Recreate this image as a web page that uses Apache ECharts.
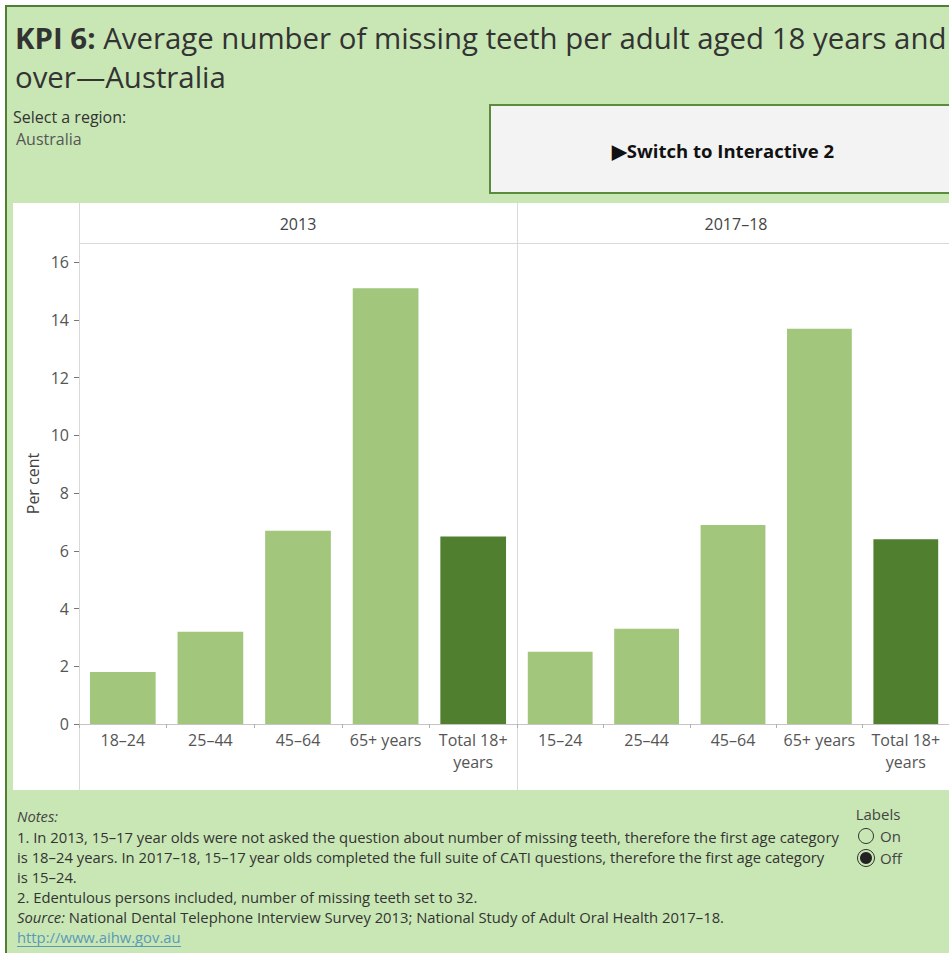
<!DOCTYPE html>
<html>
<head>
<meta charset="utf-8">
<title>KPI 6: Average number of missing teeth per adult</title>
<script src="https://cdn.jsdelivr.net/npm/echarts@6/dist/echarts.min.js"></script>
<style>
  html, body { margin: 0; padding: 0; background: #ffffff; }
  #chart { width: 949px; height: 953px; }
</style>
</head>
<body>
<div id="chart"></div>
<script>
// Age groups shown in each survey panel
const categories2013 = ['18–24', '25–44', '45–64', '65+ years', 'Total 18+\nyears'];
const categories2017 = ['15–24', '25–44', '45–64', '65+ years', 'Total 18+\nyears'];

// Average number of missing teeth per adult
const values2013 = [1.8, 3.2, 6.7, 15.1, 6.5];
const values2017 = [2.5, 3.3, 6.9, 13.7, 6.4];

// Panel headings and value-axis ticks
const panelTitles = ['2013', '2017–18'];
const yTicks = [0, 2, 4, 6, 8, 10, 12, 14, 16];

// Footnotes
const noteLines = [
  '1. In 2013, 15–17 year olds were not asked the question about number of missing teeth, therefore the first age category',
  'is 18–24 years. In 2017–18, 15–17 year olds completed the full suite of CATI questions, therefore the first age category',
  'is 15–24.',
  '2. Edentulous persons included, number of missing teeth set to 32.'
];
const sourceText = 'National Dental Telephone Interview Survey 2013; National Study of Adult Oral Health 2017–18.';
const linkText = 'http://www.aihw.gov.au';

const COLORS = {
  page: '#c9e7b5',
  frame: '#4f7f30',
  panel: '#ffffff',
  rule: '#d9d9d9',
  bar: '#a1c67c',
  total: '#50802f',
  title: '#333333',
  text: '#555555',
  link: '#5a9ab8'
};
const FONT = '"Open Sans", "Noto Sans", sans-serif';

const chart = echarts.init(document.getElementById('chart'), null, { renderer: 'svg' });

const plotTop = 243, plotBottom = 724, panelW = 438;
const panelLefts = [79, 517];
const yMax = 16.67;

function barItem(v, i, arr) {
  return { value: v, itemStyle: { color: i === arr.length - 1 ? COLORS.total : COLORS.bar } };
}

const grids = panelLefts.map(l => ({ left: l, top: plotTop, width: panelW, height: plotBottom - plotTop, containLabel: false }));

const xAxes = [categories2013, categories2017].map((cats, gi) => ({
  type: 'category',
  gridIndex: gi,
  data: cats,
  axisLine: { show: true, lineStyle: { color: '#c4c4c4', width: 1 } },
  axisTick: { show: true, alignWithLabel: false, length: 4, lineStyle: { color: '#b0b0b0' } },
  axisLabel: { color: COLORS.text, fontFamily: FONT, fontSize: 16, lineHeight: 22, margin: 5, interval: 0 }
}));

const yAxes = [0, 1].map(gi => ({
  type: 'value',
  gridIndex: gi,
  min: 0,
  max: yMax,
  name: gi === 0 ? 'Per cent' : '',
  nameLocation: 'middle',
  nameRotate: 90,
  nameGap: 38,
  nameTextStyle: { color: '#444', fontFamily: FONT, fontSize: 16 },
  axisLine: { show: false },
  axisTick: { show: gi === 0, length: 5, customValues: yTicks, lineStyle: { color: '#777' } },
  axisLabel: { show: gi === 0, customValues: yTicks, color: COLORS.text, fontFamily: FONT, fontSize: 16, margin: 10 },
  splitLine: { show: false }
}));

const series = [values2013, values2017].map((vals, gi) => ({
  type: 'bar',
  xAxisIndex: gi,
  yAxisIndex: gi,
  barCategoryGap: '25%',
  data: vals.map(barItem),
  silent: true
}));

// Page furniture: frame, white chart panel, rules, headings, button, notes
const g = [];
g.push({ type: 'rect', z: -20, shape: { x: 0, y: 0, width: 949, height: 953 }, style: { fill: '#ffffff' } });
g.push({ type: 'rect', z: -19, shape: { x: 6, y: 6, width: 960, height: 960 }, style: { fill: COLORS.page, stroke: COLORS.frame, lineWidth: 2 } });
g.push({ type: 'rect', z: -18, shape: { x: 13, y: 203, width: 940, height: 587 }, style: { fill: COLORS.panel } });
// panel rules
g.push({ type: 'line', z: -17, shape: { x1: 79.5, y1: 203, x2: 79.5, y2: 790 }, style: { stroke: COLORS.rule, lineWidth: 1 } });
g.push({ type: 'line', z: -17, shape: { x1: 517.5, y1: 203, x2: 517.5, y2: 790 }, style: { stroke: COLORS.rule, lineWidth: 1 } });
g.push({ type: 'line', z: -17, shape: { x1: 79, y1: 243.5, x2: 949, y2: 243.5 }, style: { stroke: COLORS.rule, lineWidth: 1 } });
panelTitles.forEach((t, i) => {
  g.push({ type: 'text', x: panelLefts[i] + panelW / 2, y: 224, style: { text: t, font: '16px ' + FONT, fill: '#444', textAlign: 'center', textVerticalAlign: 'middle' } });
});

// title
g.push({
  type: 'text', x: 15, y: 18,
  style: {
    text: '{b|KPI 6:} Average number of missing teeth per adult aged 18 years and\nover—Australia',
    font: '29.4px ' + FONT, fill: COLORS.title, textVerticalAlign: 'top', lineHeight: 39,
    rich: { b: { font: 'bold 29.4px ' + FONT, fill: COLORS.title, lineHeight: 39 } }
  }
});
g.push({ type: 'text', x: 13, y: 117, style: { text: 'Select a region:', font: '16px ' + FONT, fill: '#333', textVerticalAlign: 'middle' } });
g.push({ type: 'text', x: 16, y: 139, style: { text: 'Australia', font: '16px ' + FONT, fill: '#555', textVerticalAlign: 'middle' } });

// button
g.push({ type: 'rect', shape: { x: 490, y: 105, width: 470, height: 88 }, style: { fill: '#f3f3f3', stroke: '#5b8c3c', lineWidth: 2 } });
g.push({ type: 'text', x: 723, y: 150, style: { text: '▶Switch to Interactive 2', font: 'bold 18.5px ' + FONT, fill: '#111', textAlign: 'center', textVerticalAlign: 'middle' } });

// notes
const noteFont = '14.8px ' + FONT;
g.push({ type: 'text', x: 17, y: 816, style: { text: 'Notes:', font: 'italic ' + noteFont, fill: '#444', textVerticalAlign: 'middle' } });
noteLines.forEach((t, i) => {
  g.push({ type: 'text', x: 17, y: 837 + i * 20, style: { text: t, font: noteFont, fill: '#333', textVerticalAlign: 'middle' } });
});
g.push({
  type: 'text', x: 17, y: 917,
  style: { text: '{i|Source:} ' + sourceText, font: noteFont, fill: '#333', textVerticalAlign: 'middle', rich: { i: { font: 'italic ' + noteFont, fill: '#333' } } }
});
g.push({ type: 'text', x: 17, y: 937, style: { text: linkText, font: noteFont, fill: COLORS.link, textVerticalAlign: 'middle' } });
g.push({ type: 'line', shape: { x1: 17, y1: 946.5, x2: 181, y2: 946.5 }, style: { stroke: COLORS.link, lineWidth: 1 } });

// labels toggle
g.push({ type: 'text', x: 878, y: 814, style: { text: 'Labels', font: '15px ' + FONT, fill: '#444', textAlign: 'center', textVerticalAlign: 'middle' } });
g.push({ type: 'circle', shape: { cx: 866, cy: 836, r: 7.5 }, style: { fill: '#ffffff00', stroke: '#333', lineWidth: 1 } });
g.push({ type: 'text', x: 880, y: 836, style: { text: 'On', font: '15px ' + FONT, fill: '#444', textVerticalAlign: 'middle' } });
g.push({ type: 'circle', shape: { cx: 866, cy: 858, r: 8.5 }, style: { fill: '#ffffff00', stroke: '#333', lineWidth: 1 } });
g.push({ type: 'circle', shape: { cx: 866, cy: 858, r: 6 }, style: { fill: '#222' } });
g.push({ type: 'text', x: 880, y: 858, style: { text: 'Off', font: '15px ' + FONT, fill: '#444', textVerticalAlign: 'middle' } });

chart.setOption({
  animation: false,
  grid: grids,
  xAxis: xAxes,
  yAxis: yAxes,
  series: series,
  graphic: { elements: g }
});
</script>
</body>
</html>
